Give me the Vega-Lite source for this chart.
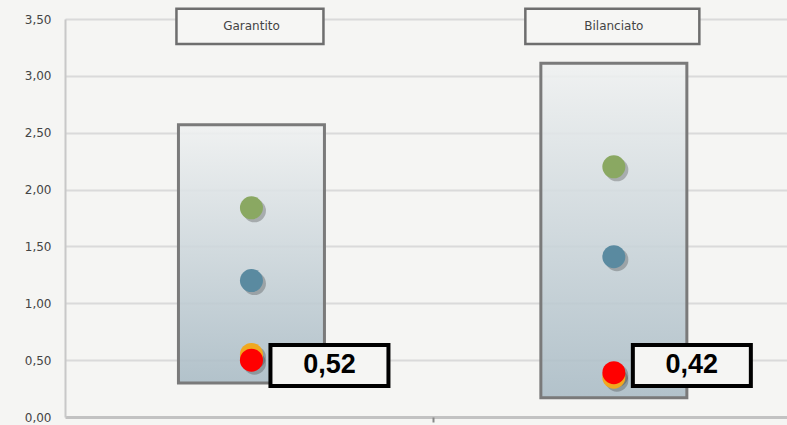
{
  "$schema": "https://vega.github.io/schema/vega-lite/v6.json",
  "width": 722,
  "height": 398,
  "autosize": {"type": "none"},
  "padding": {"left": 65, "top": 19, "right": 0, "bottom": 8},
  "background": "#f5f5f3",
  "config": {"view": {"stroke": null}},
  "datasets": {
    "boxes": [
      {"cat": "Garantito", "x": 1, "low": 0.30, "high": 2.57},
      {"cat": "Bilanciato", "x": 2, "low": 0.17, "high": 3.11}
    ],
    "points": [
      {"cat": "Garantito", "x": 1, "series": "green", "value": 1.84},
      {"cat": "Garantito", "x": 1, "series": "blue", "value": 1.20},
      {"cat": "Garantito", "x": 1, "series": "orange", "value": 0.55},
      {"cat": "Garantito", "x": 1, "series": "red", "value": 0.50},
      {"cat": "Bilanciato", "x": 2, "series": "green", "value": 2.20},
      {"cat": "Bilanciato", "x": 2, "series": "blue", "value": 1.41},
      {"cat": "Bilanciato", "x": 2, "series": "orange", "value": 0.35},
      {"cat": "Bilanciato", "x": 2, "series": "red", "value": 0.39}
    ],
    "labels": [
      {"cat": "Garantito", "x": 1, "label": "0,52"},
      {"cat": "Bilanciato", "x": 2, "label": "0,42"}
    ]
  },
  "layer": [
    {
      "data": {"name": "boxes"},
      "mark": {
        "type": "bar",
        "size": 146,
        "fill": {"gradient": "linear", "x1": 0, "y1": 0, "x2": 0, "y2": 1,
          "stops": [{"offset": 0, "color": "#eff1f1"}, {"offset": 1, "color": "#a9bbc5"}]},
        "fillOpacity": 0.88,
        "stroke": "#7a7a7a",
        "strokeWidth": 3
      },
      "encoding": {
        "x": {
          "field": "x", "type": "quantitative",
          "scale": {"domain": [0.4993, 2.464], "nice": false, "zero": false},
          "axis": {"title": null, "labels": false, "domain": false, "grid": false, "values": [1.5], "ticks": true, "tickSize": 5, "tickColor": "#888888", "tickWidth": 2}
        },
        "y": {
          "field": "low", "type": "quantitative",
          "scale": {"domain": [0, 3.5], "nice": false},
          "axis": {
            "title": null,
            "values": [0, 0.5, 1, 1.5, 2, 2.5, 3, 3.5],
            "labelExpr": "replace(format(datum.value, '.2f'), '.', ',')",
            "labelFont": "DejaVu Sans",
            "labelFontSize": 12,
            "labelColor": "#444444",
            "labelPadding": 14,
            "ticks": false,
            "domain": true,
            "domainColor": "#c8c8c8",
            "domainWidth": 2,
            "grid": true,
            "gridColor": {"condition": {"test": "datum.value === 0", "value": "#c2c2c2"}, "value": "#dadada"},
            "gridWidth": {"condition": {"test": "datum.value === 0", "value": 3}, "value": 2}
          }
        },
        "y2": {"field": "high"}
      }
    },
    {
      "data": {"name": "boxes"},
      "mark": {"type": "bar", "fill": "#f6f6f4", "stroke": "#6e6e6e", "strokeWidth": 2.5, "xOffset": -1.5},
      "encoding": {
        "x": {"field": "x", "type": "quantitative"},
        "y": {"datum": 3.59},
        "y2": {"datum": 3.28},
        "size": {"condition": {"test": "datum.cat === 'Bilanciato'", "value": 174}, "value": 147}
      }
    },
    {
      "data": {"name": "boxes"},
      "mark": {"type": "text", "font": "DejaVu Sans", "fontSize": 12, "color": "#444444"},
      "encoding": {
        "x": {"field": "x", "type": "quantitative"},
        "y": {"datum": 3.435},
        "text": {"field": "cat"}
      }
    },
    {
      "data": {"name": "points"},
      "mark": {"type": "circle", "size": 530, "opacity": 0.3, "color": "#333333", "xOffset": 3, "yOffset": 3},
      "encoding": {
        "x": {"field": "x", "type": "quantitative"},
        "y": {"field": "value", "type": "quantitative"}
      }
    },
    {
      "data": {"name": "points"},
      "mark": {"type": "circle", "size": 530, "opacity": 1},
      "encoding": {
        "x": {"field": "x", "type": "quantitative"},
        "y": {"field": "value", "type": "quantitative"},
        "color": {
          "field": "series", "type": "nominal",
          "scale": {"domain": ["green", "blue", "orange", "red"], "range": ["#8aa862", "#5a8aa0", "#f0a820", "#ff0000"]},
          "legend": null
        }
      }
    },
    {
      "data": {"name": "labels"},
      "mark": {"type": "bar", "size": 118, "xOffset": 78, "fill": "#f5f5f3", "stroke": "#000000", "strokeWidth": 4},
      "encoding": {
        "x": {"field": "x", "type": "quantitative"},
        "y": {"datum": 0.633},
        "y2": {"datum": 0.273}
      }
    },
    {
      "data": {"name": "labels"},
      "mark": {"type": "text", "xOffset": 78, "font": "Liberation Sans", "fontSize": 27, "fontWeight": "bold", "color": "#000000", "baseline": "middle"},
      "encoding": {
        "x": {"field": "x", "type": "quantitative"},
        "y": {"datum": 0.453},
        "text": {"field": "label"}
      }
    }
  ]
}
